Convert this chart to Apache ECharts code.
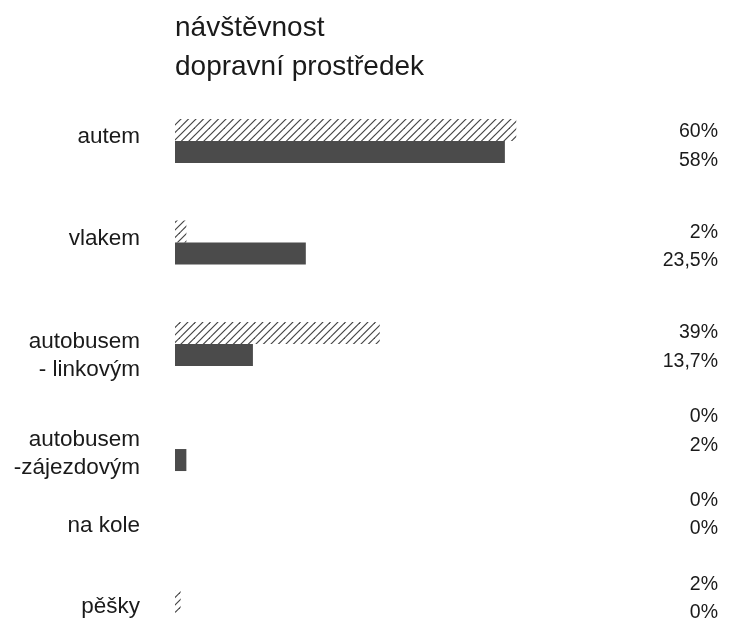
<!DOCTYPE html>
<html><head><meta charset="utf-8">
<script src="https://cdn.jsdelivr.net/npm/echarts@6/dist/echarts.min.js"></script>
<style>html,body{margin:0;padding:0;background:#fff}#c{width:735px;height:618px}</style>
</head><body><div id="c"></div>
<script>
// ---- data ----
const seriesNames = ['návštěvnost', 'dopravní prostředek'];
const categoriesTop = ['autem', 'vlakem', 'autobusem\n- linkovým'];
const categoriesBottom = ['autobusem\n-zájezdovým', 'na kole', 'pěšky'];
const visitTop = [60, 2, 36];
const visitBottom = [0, 0, 1];
const transportTop = [58, 23, 13.7];
const transportBottom = [2, 0, 0];
const visitLabelsTop = ['60%', '2%', '39%'];
const visitLabelsBottom = ['0%', '0%', '2%'];
const transportLabelsTop = ['58%', '23,5%', '13,7%'];
const transportLabelsBottom = ['2%', '0%', '0%'];

// ---- styling ----
const FONT = '"Liberation Sans", Arial, sans-serif';
const TEXT = '#1a1a1a';
const DARK = '#4b4b4b';
// vertical nudges of label blocks (px, + = down)
const leftNudgeTop = [-4, -4, 12];
const leftNudgeBottom = [5, -5, -6];
const rightNudgeTop = [5, 4, 3];
const rightNudgeBottom = [-18, -16.5, -14];

function makeHatch() {
  const s = 15, c = document.createElement('canvas');
  c.width = s; c.height = s;
  const g = c.getContext('2d');
  g.fillStyle = '#ffffff'; g.fillRect(0, 0, s, s);
  g.strokeStyle = '#444444'; g.lineWidth = 1.15;
  for (let k = -2; k <= 5; k++) {
    const o = k * 7.5;
    g.beginPath(); g.moveTo(o + 2, -2); g.lineTo(o - s - 2, s + 2); g.stroke();
  }
  return c;
}
const hatch = { image: makeHatch(), repeat: 'repeat' };

const pair = (a, b) => a.map((v, i) => v + '\n' + b[i]);

const gapRich = {};
for (let h = 1; h <= 60; h++) gapRich['g' + h] = { lineHeight: h, fontSize: 1, height: h };

function nudged(nudges) {
  return (v, i) => {
    const d = Math.round((nudges[i] || 0) * 2);
    const lines = String(v).split('\n').map(l => '{t|' + l + '}');
    if (d > 0) lines.unshift('{g' + d + '| }');
    else if (d < 0) lines.push('{g' + (-d) + '| }');
    return lines.join('\n');
  };
}

const chart = echarts.init(document.getElementById('c'), null, { renderer: 'canvas' });

const catAxis = (grid, data, nudges) => ({
  gridIndex: grid, type: 'category', inverse: true, data: data,
  axisLine: { show: false }, axisTick: { show: false }, splitLine: { show: false },
  axisLabel: {
    interval: 0, margin: 35, color: TEXT, fontFamily: FONT,
    formatter: nudged(nudges),
    rich: Object.assign({ t: { fontSize: 22.5, lineHeight: 28.5, color: TEXT, fontFamily: FONT } }, gapRich)
  }
});
const valAxis = (grid, data, nudges) => ({
  gridIndex: grid, type: 'category', inverse: true, position: 'right', data: data,
  axisLine: { show: false }, axisTick: { show: false }, splitLine: { show: false },
  axisLabel: {
    interval: 0, margin: 88, align: 'right', color: TEXT, fontFamily: FONT,
    formatter: nudged(nudges),
    rich: Object.assign({ t: { fontSize: 19.5, lineHeight: 28.5, color: TEXT, fontFamily: FONT } }, gapRich)
  }
});

const bar = (name, x, y, data, color) => ({
  type: 'bar', name: name, xAxisIndex: x, yAxisIndex: y, data: data,
  barWidth: 22, barGap: '0%', itemStyle: { color: color }, silent: true
});

chart.setOption({
  animation: false,
  backgroundColor: '#ffffff',
  textStyle: { fontFamily: FONT, color: TEXT },
  legend: {
    data: seriesNames, orient: 'vertical', left: 165, top: 9, itemGap: 11,
    itemWidth: 0, itemHeight: 0, icon: 'rect', selectedMode: false,
    textStyle: { fontSize: 28, color: TEXT, fontFamily: FONT }
  },
  grid: [
    { left: 175, width: 455, top: 90.25, height: 304.5, containLabel: false, outerBoundsMode: 'none' },
    { left: 175, width: 455, top: 408.1, height: 245.6, containLabel: false, outerBoundsMode: 'none' }
  ],
  xAxis: [
    { gridIndex: 0, type: 'value', min: 0, max: 80, show: false },
    { gridIndex: 1, type: 'value', min: 0, max: 80, show: false }
  ],
  yAxis: [
    catAxis(0, categoriesTop, leftNudgeTop),
    valAxis(0, pair(visitLabelsTop, transportLabelsTop), rightNudgeTop),
    catAxis(1, categoriesBottom, leftNudgeBottom),
    valAxis(1, pair(visitLabelsBottom, transportLabelsBottom), rightNudgeBottom)
  ],
  series: [
    bar(seriesNames[0], 0, 0, visitTop, hatch),
    bar(seriesNames[1], 0, 0, transportTop, DARK),
    bar(seriesNames[0], 1, 2, visitBottom, hatch),
    bar(seriesNames[1], 1, 2, transportBottom, DARK)
  ]
});
</script>
</body></html>
